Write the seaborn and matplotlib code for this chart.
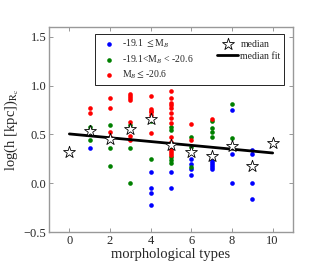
import matplotlib
matplotlib.use("Agg")
import matplotlib.pyplot as plt
import pandas as pd
import seaborn as sns

# bright galaxies: -19.1 <= M_B
blue_x = [1, 4, 4, 4, 4, 5, 5, 6, 6, 6, 6, 7, 7, 7, 7, 7, 8, 8, 8, 9, 9, 9, 9]
blue_y = [0.36, 0.11, -0.05, -0.10, -0.22, 0.11, -0.05, 0.25, 0.20, 0.15, 0.08,
          0.23, 0.21, 0.19, 0.17, 0.15, 0.75, 0.30, 0.00, 0.34, 0.30, 0.00, -0.16]
# -19.1 < M_B < -20.6
green_x = [1, 1, 1, 2, 2, 2, 3, 3, 3, 4, 4, 5, 5, 5, 5, 5, 6, 6, 6, 7, 7, 7, 7, 8, 8]
green_y = [0.58, 0.55, 0.445, 0.60, 0.36, 0.175, 0.60, 0.36, 0.00, 0.64, 0.25,
           0.58, 0.55, 0.27, 0.24, 0.21, 0.47, 0.37, 0.17, 0.64, 0.57, 0.52, 0.47,
           0.81, 0.46]
# M_B <= -20.6
red_x = [1, 1, 2, 2, 2, 2, 3, 3, 3, 3, 3, 3, 3, 4, 4, 4, 4, 4, 4,
         5, 5, 5, 5, 5, 5, 5, 5, 5, 5, 5, 5, 5, 5, 5, 6, 6, 7]
red_y = [0.775, 0.72, 0.87, 0.77, 0.52, 0.47, 0.91, 0.89, 0.87, 0.85, 0.63, 0.48, 0.44,
         0.895, 0.765, 0.745, 0.725, 0.70, 0.515,
         0.94, 0.875, 0.82, 0.80, 0.775, 0.72, 0.67, 0.62, 0.475, 0.42, 0.37, 0.35,
         0.33, 0.31, 0.29, 0.61, 0.44, 0.655]

median_x = [0, 1, 2, 3, 4, 5, 6, 7, 8, 9, 10]
median_y = [0.32, 0.54, 0.455, 0.56, 0.655, 0.39, 0.32, 0.276, 0.38, 0.177, 0.413]

fit_x = [0, 10]
fit_y = [0.505, 0.31]

labels = ["-19.1 $\\leq$M$_B$", "-19.1<M$_B$ < -20.6", "M$_B$$\\leq$-20.6"]

sns.set_style("ticks")
plt.rcParams["font.family"] = ["Liberation Serif", "DejaVu Serif"]
plt.rcParams["mathtext.fontset"] = "stix"

fig = plt.figure(figsize=(3.27, 2.73), dpi=100)
ax = fig.add_axes([0.15, 0.15, 0.746, 0.751])

groups = [(blue_x, blue_y, "blue"), (green_x, green_y, "green"), (red_x, red_y, "red")]
for (gx, gy, col), lab in zip(groups, labels):
    df = pd.DataFrame({"type": gx, "logh": gy})
    sns.scatterplot(data=df, x="type", y="logh", color=col, s=11, linewidth=0,
                    label=lab, ax=ax, zorder=2)

med = pd.DataFrame({"type": median_x, "logh": median_y})
sns.scatterplot(data=med, x="type", y="logh", marker="*", s=80, color="white",
                edgecolor="black", linewidth=0.6, label="median", ax=ax, zorder=4)

fit = pd.DataFrame({"type": fit_x, "logh": fit_y})
sns.lineplot(data=fit, x="type", y="logh", color="black", linewidth=2,
             label="median fit", ax=ax, zorder=3)

ax.set_xlim(-1, 11)
ax.set_ylim(-0.5, 1.6)
ax.set_xticks([0, 2, 4, 6, 8, 10])
ax.set_yticks([-0.5, 0.0, 0.5, 1.0, 1.5])
ax.set_yticklabels(["\u22120.5", "0.0", "0.5", "1.0", "1.5"])
ax.tick_params(direction="in", top=True, right=True, labelsize=9, length=3,
               color="#888888", width=0.6, pad=2)
for sp in ax.spines.values():
    sp.set_color("#999999")
    sp.set_linewidth(1.0)

ax.set_xlabel("morphological types", fontsize=10.5, labelpad=1)
ax.set_ylabel("log(h [kpc])$_{\\mathrm{R_c}}$", fontsize=10.5, labelpad=2)

leg = ax.legend(ncol=2, loc="upper right", bbox_to_anchor=(0.985, 0.99),
                fontsize=7, frameon=True, fancybox=False, framealpha=1,
                edgecolor="black", handlelength=2.2, handletextpad=0.2,
                columnspacing=2.4, labelspacing=0.3, borderpad=0.4,
                scatterpoints=1, markerscale=1)
leg.get_frame().set_linewidth(0.6)

fig.savefig("out.png", dpi=100)
